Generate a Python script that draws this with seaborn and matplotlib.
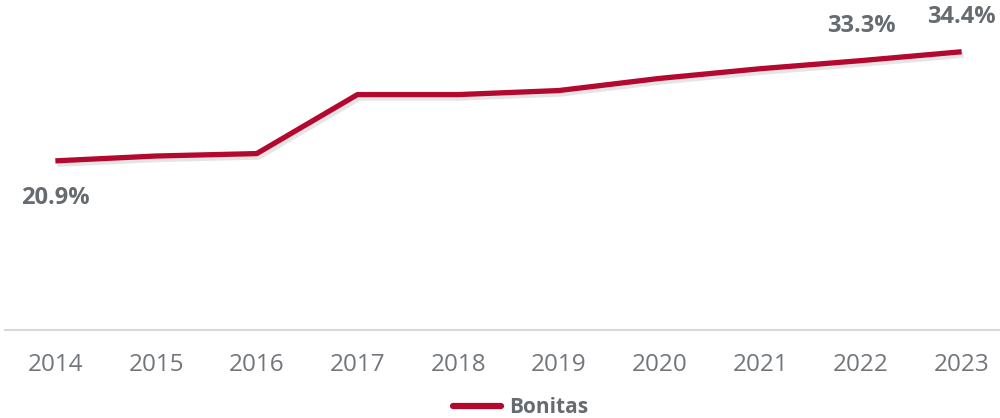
import matplotlib
matplotlib.use("Agg")
import matplotlib.pyplot as plt
import matplotlib.patheffects as pe
import seaborn as sns
import pandas as pd

years = [2014, 2015, 2016, 2017, 2018, 2019, 2020, 2021, 2022, 2023]
share = [20.9, 21.5, 21.8, 29.1, 29.1, 29.6, 31.1, 32.3, 33.3, 34.4]
series_name = "Bonitas"
labelled = {2014: "below", 2022: "above", 2023: "above"}

LINE_RED = "#B5082E"
TEXT_GREY = "#666B70"
TICK_GREY = "#72767B"

sns.set_theme(style="white")
plt.rcParams['font.family'] = ['Open Sans', 'DejaVu Sans']

df = pd.DataFrame({"Year": years, "Share": share, "Scheme": series_name})

fig = plt.figure(figsize=(10, 4.18), dpi=100)
ax = fig.add_axes([0.005, 0.211, 1.007, 0.789])

sns.lineplot(ax=ax, data=df, x="Year", y="Share", hue="Scheme",
             palette=[LINE_RED], linewidth=3.8, legend=True)
ax.lines[0].set_path_effects([
    pe.SimpleLineShadow(offset=(1.5, -2.5), shadow_color="#999999", alpha=0.25),
    pe.Normal()])
ax.lines[0].set_solid_capstyle("butt")

# data labels
for yr, pos in labelled.items():
    v = share[years.index(yr)]
    dy = -27 if pos == "below" else 25
    ax.annotate(f"{v:.1f}%", (yr, v), xytext=(0, dy), textcoords="offset points",
                ha="center", va="center", fontsize=17, fontweight="bold", color=TEXT_GREY)

ax.set_xlim(2013.5, 2023.5)
ax.set_ylim(0, 40.8)
ax.set_xticks(years)
ax.set_xticklabels([str(y) for y in years], fontsize=17.5, color=TICK_GREY)
ax.tick_params(axis="x", length=0, pad=17)
ax.set_yticks([])
ax.set_xlabel("")
ax.set_ylabel("")
for side in ["top", "right", "left"]:
    ax.spines[side].set_visible(False)
ax.spines["bottom"].set_color("#D9D9D9")
ax.spines["bottom"].set_linewidth(1.5)

leg = ax.legend(loc="center", bbox_to_anchor=(0.512, -0.235), frameon=False,
                handlelength=2.3, handletextpad=0.35, fontsize=15)
for t in leg.get_texts():
    t.set_color(TEXT_GREY)
    t.set_fontweight("bold")
for h in leg.get_lines():
    h.set_linewidth(4.5)
    h.set_path_effects([])

fig.savefig("out.png", dpi=100)
